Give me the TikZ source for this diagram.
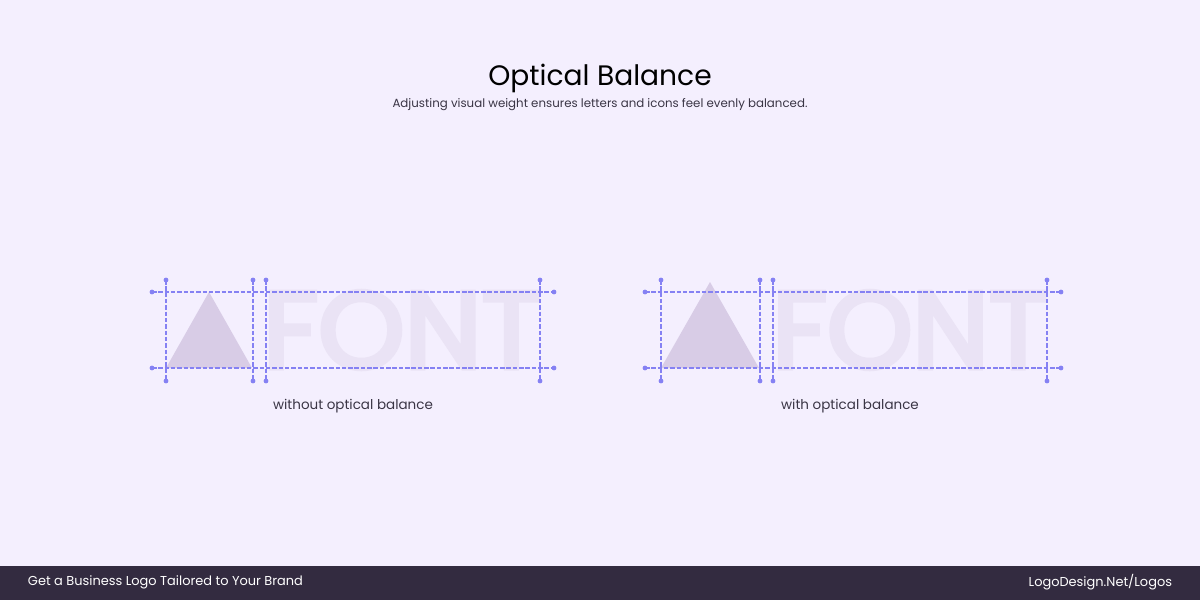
\documentclass[tikz,border=0pt]{standalone}
\usepackage{fontspec}
\setmainfont{Poppins}
\newfontfamily\fontfat[FakeBold=4.5]{Poppins}
\usepackage{graphicx}
\usepackage{tikz}

\definecolor{pagebg}{HTML}{F4EFFE}
\definecolor{footbg}{HTML}{332B40}
\definecolor{guideblue}{HTML}{8581F3}
\definecolor{triafill}{HTML}{D8CCE6}
\definecolor{fontgray}{HTML}{EAE3F5}
\definecolor{textgray}{HTML}{3A3545}

\begin{document}
\begin{tikzpicture}[x=0.025cm,y=-0.025cm]
        \tikzstyle{guide}=[draw=guideblue, line width=0.85pt, dash pattern=on 3.2pt off 1.3pt]
        \tikzstyle{gdot}=[fill=guideblue]
        \tikzstyle{caption}=[text=textgray, font=\fontsize{9.6}{11}\selectfont]
        % background and footer
        \fill [pagebg] (0,0) rectangle (1200,600);
        \fill [footbg] (0,566) rectangle (1200,600);
        \useasboundingbox (0,0) rectangle (1200,600);
        % title
        \node (title) at (600,78) {\fontsize{20}{24}\selectfont Optical Balance};
        \node [text=textgray] (subtitle) at (600,105) {\fontsize{8.4}{10}\selectfont Adjusting visual weight ensures letters and icons feel evenly balanced.};
        % left: without optical balance
        \node [inner sep=0pt, text=fontgray] (fontL) at (402,330) {\resizebox{6.95cm}{1.92cm}{\fontfat FONT}};
        \fill [triafill] (166,368) -- (209,292) -- (252,368) -- cycle;
        \draw [guide] (152,292) -- (554,292);
        \draw [guide] (152,368) -- (554,368);
        \foreach \x in {166,253,266,540} {
            \draw [guide] (\x,280) -- (\x,381);
            \fill [gdot] (\x,280) circle (2.4);
            \fill [gdot] (\x,381) circle (2.4);
        }
        \foreach \y in {292,368} {
            \fill [gdot] (152,\y) circle (2.4);
            \fill [gdot] (554,\y) circle (2.4);
        }
        \node [caption] (capL) at (353,406) {without optical balance};
        % right: with optical balance
        \node [inner sep=0pt, text=fontgray] (fontR) at (910,330) {\resizebox{6.88cm}{1.92cm}{\fontfat FONT}};
        \fill [triafill] (661,368) -- (710,282) -- (759,368) -- cycle;
        \draw [guide] (645,292) -- (1061,292);
        \draw [guide] (645,368) -- (1061,368);
        \foreach \x in {661,760,773,1047} {
            \draw [guide] (\x,280) -- (\x,381);
            \fill [gdot] (\x,280) circle (2.4);
            \fill [gdot] (\x,381) circle (2.4);
        }
        \foreach \y in {292,368} {
            \fill [gdot] (645,\y) circle (2.4);
            \fill [gdot] (1061,\y) circle (2.4);
        }
        \node [caption] (capR) at (850,406) {with optical balance};
        % footer
        \node [anchor=west, text=white, font=\fontsize{9.2}{11}\selectfont] (footL) at (23,582) {Get a Business Logo Tailored to Your Brand};
        \node [anchor=east, text=white, font=\fontsize{9.2}{11}\selectfont] (footR) at (1177,582) {LogoDesign.Net/Logos};
\end{tikzpicture}
\end{document}
